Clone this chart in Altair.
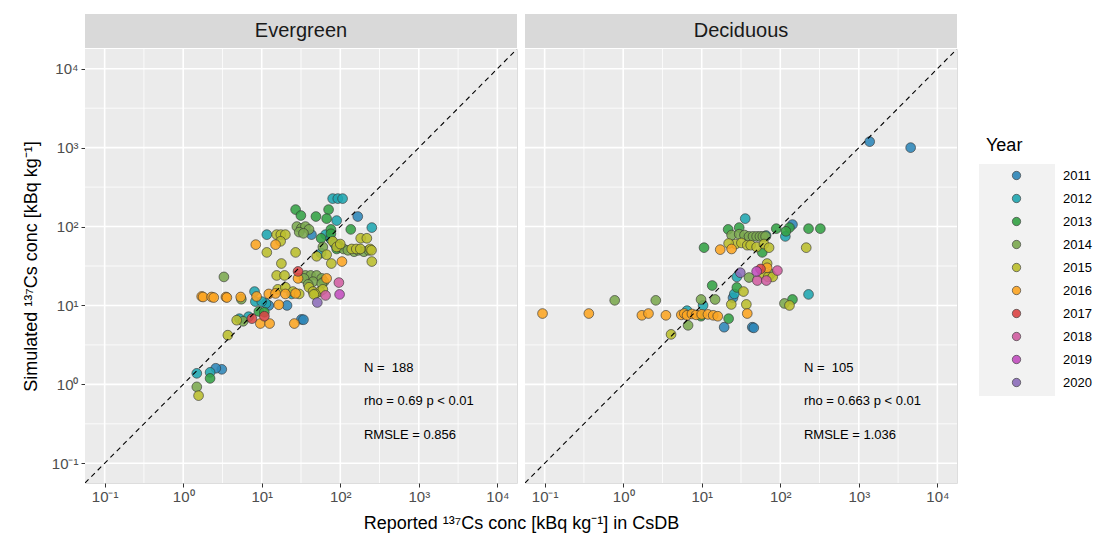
import altair as alt
import pandas as pd

FONT = "Liberation Sans"

years = [2011, 2012, 2013, 2014, 2015, 2016, 2017, 2018, 2019, 2020]
year_colors = ["#2E86B8", "#1FA6B0", "#33A244", "#7BA84E", "#BBBE2C",
               "#FCA522", "#DB4545", "#D05DA0", "#C24DBE", "#8C6DBA"]

# axis domain (log10 -1.25 .. 4.25), major / minor breaks
LO, HI = 10 ** -1.25, 10 ** 4.25
major_breaks = [0.1, 1, 10, 100, 1000, 10000]
minor_breaks = [10 ** -0.5, 10 ** 0.5, 10 ** 1.5, 10 ** 2.5, 10 ** 3.5]
diag_vals = [LO, HI]

# ---------------- Evergreen ----------------
ever_x = [
    # 2011
    167, 43, 12.3, 21, 32, 34, 3.1, 2.6,
    # 2012
    80, 93, 107, 252, 90, 11.6, 65, 75, 85, 57, 8.1, 8.3, 11.3, 24, 5.2, 6.8, 1.49, 2.2, 10,
    # 2013
    27, 31.5, 49, 71, 67, 136, 76, 57, 90, 95, 76, 96, 9.2, 10.8, 2.2,
    # 2014
    28, 32, 36, 40, 30, 34, 150, 170, 200, 230, 3.3, 36, 42, 50, 58, 62, 45, 34.5, 39, 58,
    5.5, 5.8, 1.49, 110, 125, 60,
    # 2015
    15.5, 17.5, 20, 17.4, 11.6, 27, 17.8, 50, 80, 90, 100, 140, 160, 182, 218, 252, 77, 67,
    15.5, 19.5, 40, 45, 55, 60, 48, 16, 20, 25, 30, 46, 4.8, 3.7, 1.57, 180, 240, 250,
    # 2016
    8.4, 15, 105, 29, 67, 1.72, 1.79, 2.3, 2.45, 3.5, 3.6, 5.4, 8.6, 12.3, 15, 20, 27,
    16.5, 9.6, 12.6, 26,
    # 2017
    29, 10.8, 7.5,
    # 2018
    96, 65,
    # 2019
    98,
    # 2020
    51,
]
ever_y = [
    # 2011
    134, 79, 10, 10, 6.65, 6.6, 1.55, 1.6,
    # 2012
    226, 226, 226, 97, 119, 79, 79, 70, 60, 46, 15, 11.2, 10.6, 14, 6.8, 7.2, 1.38, 1.42, 11.2,
    # 2013
    164, 138, 134, 164, 126, 92, 92, 71, 52, 58, 81, 55, 8.4, 8.2, 1.19,
    # 2014
    100, 95, 100, 92, 85, 82, 48, 50, 48, 50, 23, 24, 24, 24, 22, 20, 20, 22, 18.5, 19,
    12, 6.3, 0.93, 52, 50, 55,
    # 2015
    79, 79, 79, 65, 47, 47, 34, 42, 65, 55, 60, 52, 52, 71, 71, 36, 34, 44,
    24, 24, 17, 15, 15, 16, 14, 16, 17, 15, 14, 13.8, 6.5, 4.2, 0.72, 52, 52, 50,
    # 2016
    59, 59, 36, 22, 22, 13, 12.8, 12.8, 12.6, 12.8, 12.6, 12.8, 13, 14, 14.2, 14, 14.2,
    10.2, 5.9, 5.9, 5.9,
    # 2017
    27, 7.3, 6.8,
    # 2018
    19.5, 13.4,
    # 2019
    13.8,
    # 2020
    10.9,
]
ever_year = ([2011] * 8 + [2012] * 19 + [2013] * 15 + [2014] * 26 + [2015] * 36 +
             [2016] * 21 + [2017] * 3 + [2018] * 2 + [2019] * 1 + [2020] * 1)
ever_notes = ["N = \u00a0188", "rho = 0.69 p < 0.01", "RMSLE = 0.856"]

# ---------------- Deciduous ----------------
deci_x = [
    # 2011
    1375, 4570, 143, 19.3, 44, 46, 25,
    # 2012
    35.8, 66, 116, 229, 6.5, 10.4, 26, 28,
    # 2013
    21.7, 30, 59, 89, 131, 229, 324, 10.7, 13.6, 28, 22, 9.8, 143, 118,
    # 2014
    0.78, 2.6, 6.7, 9.8, 14.8, 113, 24, 30, 35, 40, 45, 50, 55, 60, 65, 40, 75,
    # 2015
    4.07, 23.8, 37, 34, 27, 32, 38, 42, 50, 62, 72, 22, 131, 214, 68, 60, 70, 80,
    # 2016
    0.094, 0.365, 1.73, 2.1, 3.5, 5.5, 6, 6.5, 7.5, 8.5, 10, 12, 14, 16, 38, 17.2, 24, 68,
    # 2017
    56,
    # 2018
    51, 66.5, 92,
    # 2019
    50,
    # 2020
    31,
]
deci_y = [
    # 2011
    1191, 1000, 106, 5.3, 5.3, 5.2, 12.5,
    # 2012
    126, 77, 75, 13.8, 8.6, 10, 14, 23,
    # 2013
    92, 97, 47, 94, 97, 94, 94, 54, 17.9, 16.9, 6.8, 7.3, 11.9, 87,
    # 2014
    11.6, 11.6, 5.6, 11.9, 11.9, 10.6, 78, 80, 78, 75, 75, 75, 75, 75, 75, 22.6, 25,
    # 2015
    4.3, 10.3, 10.3, 15, 60, 62, 58, 58, 55, 60, 54, 61, 10, 54, 34, 25, 23, 23,
    # 2016
    7.9, 7.9, 7.5, 7.9, 7.5, 7.6, 7.9, 7.5, 7.8, 7.6, 7.7, 7.7, 7.5, 7.3, 7.9, 51, 52, 30,
    # 2017
    29,
    # 2018
    20.7, 20.7, 27.7,
    # 2019
    27,
    # 2020
    26,
]
deci_year = ([2011] * 7 + [2012] * 8 + [2013] * 14 + [2014] * 17 + [2015] * 18 +
             [2016] * 18 + [2017] * 1 + [2018] * 3 + [2019] * 1 + [2020] * 1)
deci_notes = ["N = \u00a0105", "rho = 0.663 p < 0.01", "RMSLE = 1.036"]

note_x = 200
note_y = [1.6, 0.61, 0.226]

W, H = 432, 434

SUP = ("'10' + (datum.value < 0.5 ? '⁻¹' : datum.value < 5 ? '⁰' : datum.value < 50 ? '¹'"
       " : datum.value < 500 ? '²' : datum.value < 5000 ? '³' : '⁴')")

xscale = alt.Scale(type="log", domain=[LO, HI], nice=False)
yscale = alt.Scale(type="log", domain=[LO, HI], nice=False)
cscale = alt.Scale(domain=[str(y) for y in years], range=year_colors)


def make_axes(left):
    common = dict(values=major_breaks, grid=False,
                  domain=False, tickColor="#333333", tickSize=4, tickWidth=1,
                  labelColor="#4D4D4D", labelFontSize=15, labelFont=FONT,
                  titleFont=FONT, titleFontSize=18, titleFontWeight="normal",
                  titleColor="black")
    if left:
        xa = alt.Axis(labelExpr=SUP, labelPadding=2,
                      title="Reported ¹³⁷Cs conc [kBq kg⁻¹] in CsDB",
                      titleX=436, titleY=40, titleBaseline="middle", **common)
        ya = alt.Axis(labelExpr=SUP, labelPadding=3,
                      title="Simulated ¹³⁷Cs conc [kBq kg⁻¹]", titlePadding=11, **common)
    else:
        xa = alt.Axis(labelExpr=SUP, labelPadding=2, title=None, **common)
        ya = alt.Axis(labels=False, ticks=False, title=None, **common)
    return xa, ya


def panel(name, xs, ys, yrs, notes, left):
    xa, ya = make_axes(left)
    X = lambda: alt.X("x:Q", scale=xscale, axis=xa)
    Y = lambda: alt.Y("y:Q", scale=yscale, axis=ya)

    bg = alt.Chart(pd.DataFrame({"s": ["panel"]})).mark_rect(color="#EBEBEB").encode(
        x=alt.value(0), x2=alt.value(W), y=alt.value(0), y2=alt.value(H))

    minor_v = alt.Chart(pd.DataFrame({"x": minor_breaks})).mark_rule(
        color="white", strokeWidth=0.8).encode(x=X())
    minor_h = alt.Chart(pd.DataFrame({"y": minor_breaks})).mark_rule(
        color="white", strokeWidth=0.8).encode(y=Y())
    major_v = alt.Chart(pd.DataFrame({"x": major_breaks})).mark_rule(
        color="white", strokeWidth=1.6).encode(x=X())
    major_h = alt.Chart(pd.DataFrame({"y": major_breaks})).mark_rule(
        color="white", strokeWidth=1.6).encode(y=Y())

    pts_df = pd.DataFrame({"x": xs, "y": ys, "Year": [str(v) for v in yrs]})
    if left:
        legend = None
    else:
        legend = alt.Legend(orient="none", legendX=485, legendY=120, title=None,
                            symbolSize=70, symbolType="circle",
                            symbolStrokeColor="#333333", symbolStrokeWidth=0.7,
                            symbolOpacity=0.9,
                            labelFontSize=13, labelFont=FONT, labelColor="black",
                            labelOffset=40, rowPadding=9, padding=0)
    pts = alt.Chart(pts_df).mark_circle(
        size=95, fillOpacity=0.88, stroke="#333333", strokeWidth=0.7, strokeOpacity=0.9
    ).encode(
        x=X(), y=Y(),
        color=alt.Color("Year:N", scale=cscale, legend=legend),
    )

    diag = alt.Chart(pd.DataFrame({"x": diag_vals, "y": diag_vals})).mark_line(
        color="black", strokeDash=[5, 4], strokeWidth=1.1, clip=True
    ).encode(x=X(), y=Y())

    notes_df = pd.DataFrame({"x": [note_x] * 3, "y": note_y, "t": notes})
    txt = alt.Chart(notes_df).mark_text(
        align="left", baseline="middle", fontSize=13, font=FONT, color="black"
    ).encode(x=X(), y=Y(), text="t:N")

    strip_df = pd.DataFrame({"s": [name]})
    strip = alt.Chart(strip_df).mark_rect(color="#D9D9D9").encode(
        x=alt.value(0), x2=alt.value(W), y=alt.value(-35), y2=alt.value(-1))
    strip_txt = alt.Chart(strip_df).mark_text(
        fontSize=20, font=FONT, color="#1A1A1A", baseline="middle"
    ).encode(text="s:N", x=alt.value(W / 2), y=alt.value(-18))

    layers = [bg, minor_v, minor_h, major_v, major_h, pts, diag, txt, strip, strip_txt]
    if not left:
        key_bg = alt.Chart(pd.DataFrame({"s": ["bg"]})).mark_rect(color="#F2F2F2").encode(
            x=alt.value(454), x2=alt.value(530), y=alt.value(115), y2=alt.value(347))
        ytitle = alt.Chart(pd.DataFrame({"s": ["Year"]})).mark_text(
            fontSize=18, font=FONT, color="black", align="left", baseline="middle"
        ).encode(text="s:N", x=alt.value(461), y=alt.value(97))
        layers = [key_bg, ytitle] + layers
    return alt.layer(*layers).properties(width=W, height=H)


left = panel("Evergreen", ever_x, ever_y, ever_year, ever_notes, True)
right = panel("Deciduous", deci_x, deci_y, deci_year, deci_notes, False)

chart = alt.hconcat(left, right, spacing=8, bounds="flush").resolve_scale(
    color="independent"
).properties(
    padding={"left": 13, "top": 5, "right": 0, "bottom": 0}
).configure_view(
    stroke=None
).configure(font=FONT)

chart.save("out.html", embed_options={"renderer": "svg", "actions": False})
